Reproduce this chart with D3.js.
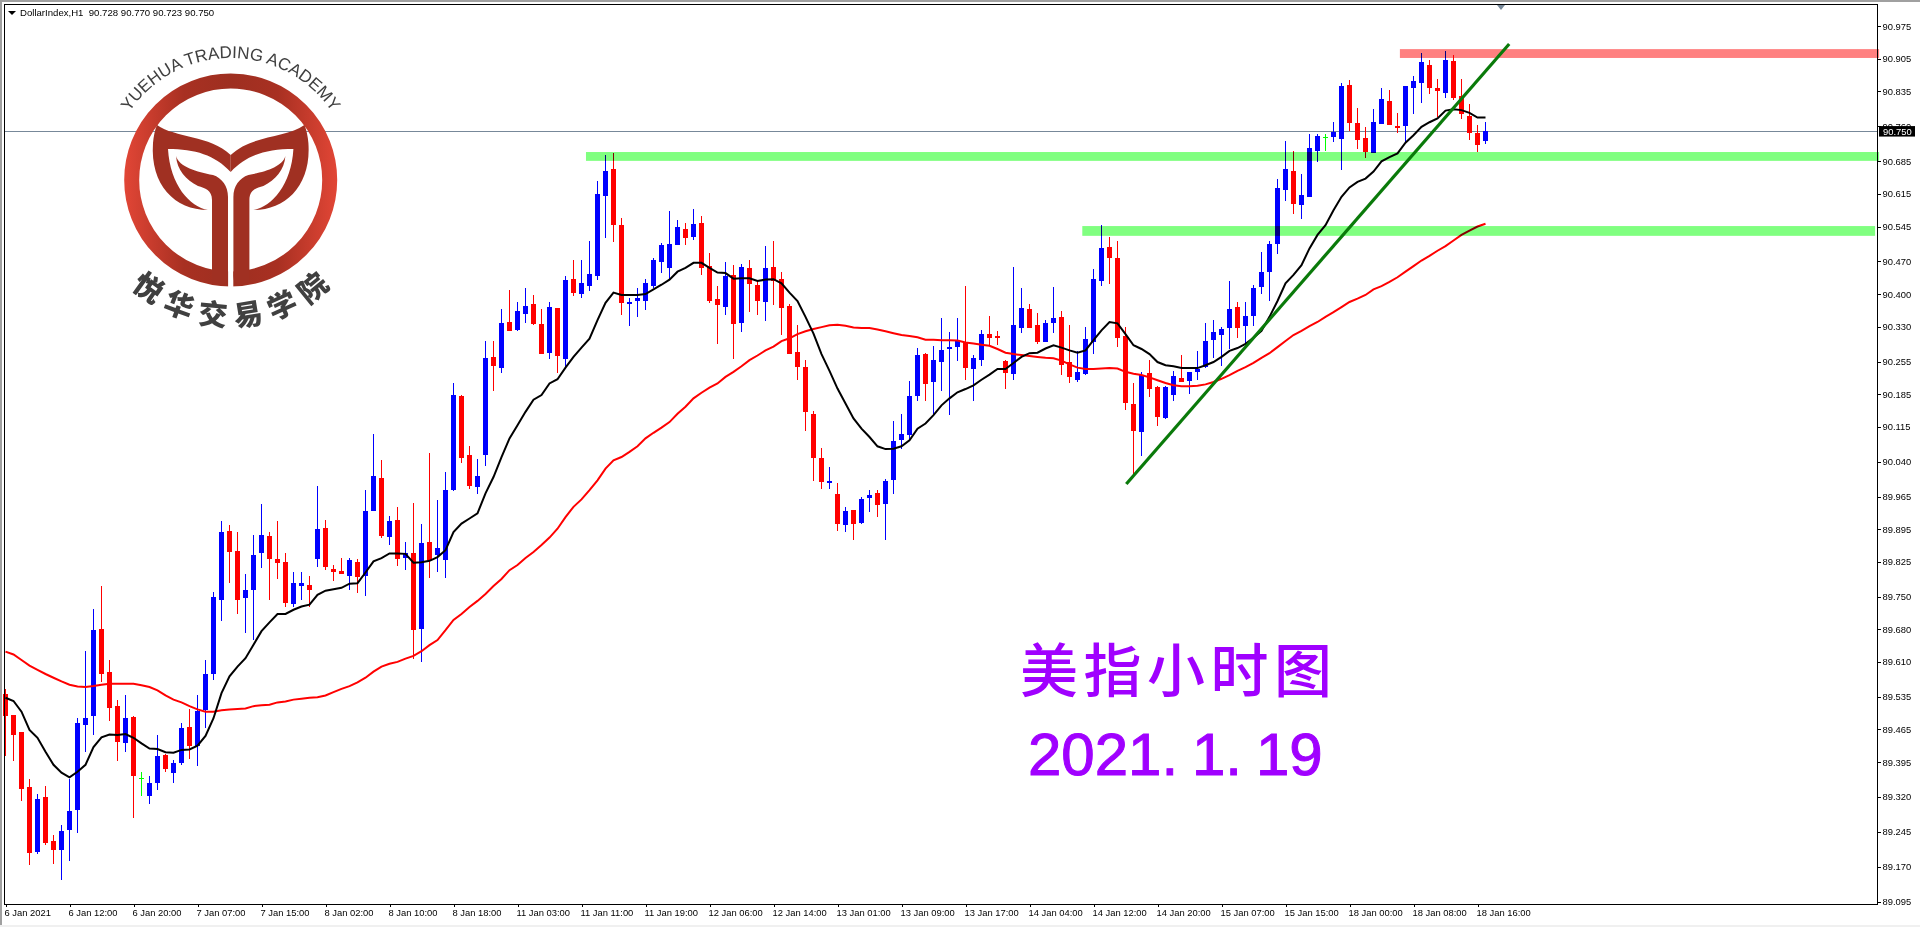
<!DOCTYPE html>
<html><head><meta charset="utf-8"><title>DollarIndex H1</title>
<script src="https://cdn.jsdelivr.net/npm/d3@7/dist/d3.min.js"></script>
<style>html,body{margin:0;padding:0;background:#fff;overflow:hidden}svg{display:block}
text{font-family:"Liberation Sans",Arial,sans-serif}</style></head><body><div id="chart"></div>
<script>
const open=[89.541,89.496,89.460,89.342,89.202,89.320,89.226,89.205,89.248,89.291,89.475,89.493,89.681,89.589,89.516,89.435,89.492,89.360,89.321,89.349,89.410,89.372,89.393,89.470,89.430,89.507,89.585,89.744,89.891,89.848,89.748,89.765,89.843,89.881,89.831,89.825,89.735,89.772,89.775,89.832,89.898,89.810,89.805,89.795,89.825,89.795,89.935,90.005,89.879,89.915,89.834,89.844,
89.680,89.867,89.839,89.828,89.979,90.181,90.054,89.986,90.055,90.264,90.241,90.340,90.323,90.357,90.378,90.335,90.273,90.370,90.261,90.432,90.400,90.418,90.439,90.611,90.668,90.548,90.379,90.385,90.385,90.418,90.469,90.456,90.506,90.539,90.523,90.552,90.460,90.389,90.373,90.441,90.338,90.456,90.419,90.383,90.458,90.432,90.374,90.275,90.243,90.142,90.047,89.994,89.970,89.904,89.936,89.909,89.962,89.972,89.949,90.001,90.087,90.098,90.181,90.271,90.211,90.254,90.282,90.287,90.297,90.239,90.259,90.314,90.310,90.256,90.229,90.327,90.368,90.333,90.297,90.338,90.350,90.254,90.215,90.229,90.297,90.428,90.501,90.477,90.310,90.163,90.104,90.230,90.201,90.134,90.183,90.219,90.214,90.233,90.244,90.301,
90.312,90.327,90.372,90.332,90.353,90.416,90.447,90.508,90.624,90.664,90.592,90.609,90.708,90.737,90.738,90.734,90.849,90.767,90.735,90.703,90.766,90.815,90.761,90.760,90.843,90.854,90.892,90.842,90.832,90.900,90.825,90.782,90.745,90.728];
const high=[89.552,89.496,89.460,89.359,89.326,89.344,89.238,89.260,89.359,89.489,89.634,89.724,89.773,89.614,89.528,89.539,89.494,89.374,89.365,89.453,89.412,89.400,89.479,89.509,89.539,89.614,89.760,89.913,89.904,89.889,89.799,89.883,89.949,89.889,89.913,89.844,89.803,89.803,89.795,89.988,89.915,89.818,89.833,89.833,89.831,89.979,90.100,90.044,89.924,89.943,89.868,89.952,
89.906,90.058,89.957,90.017,90.209,90.183,90.073,90.045,90.299,90.299,90.368,90.408,90.383,90.413,90.398,90.368,90.383,90.370,90.438,90.473,90.473,90.514,90.642,90.698,90.703,90.563,90.392,90.413,90.432,90.477,90.509,90.578,90.559,90.552,90.582,90.567,90.488,90.417,90.468,90.462,90.464,90.473,90.430,90.503,90.514,90.447,90.378,90.333,90.258,90.148,90.069,90.028,89.994,89.942,89.936,89.964,89.979,89.979,90.002,90.127,90.142,90.213,90.284,90.273,90.288,90.348,90.318,90.348,90.417,90.269,90.322,90.352,90.320,90.258,90.458,90.413,90.378,90.359,90.344,90.415,90.363,90.333,90.277,90.329,90.453,90.548,90.522,90.514,90.329,90.209,90.232,90.258,90.203,90.203,90.234,90.269,90.232,90.277,90.337,90.344,
90.329,90.428,90.383,90.383,90.419,90.490,90.514,90.647,90.728,90.707,90.658,90.744,90.744,90.744,90.770,90.853,90.860,90.800,90.759,90.797,90.842,90.838,90.789,90.847,90.868,90.918,90.903,90.862,90.922,90.913,90.862,90.808,90.763,90.770];
const low=[89.407,89.398,89.312,89.173,89.198,89.217,89.177,89.142,89.183,89.243,89.417,89.453,89.567,89.482,89.398,89.417,89.274,89.322,89.304,89.334,89.374,89.349,89.389,89.402,89.387,89.468,89.572,89.697,89.780,89.712,89.673,89.658,89.811,89.742,89.787,89.727,89.727,89.744,89.727,89.813,89.808,89.783,89.798,89.765,89.757,89.752,89.933,89.877,89.862,89.817,89.808,89.617,
89.609,89.790,89.803,89.790,89.977,90.037,89.982,89.971,90.031,90.192,90.231,90.321,90.321,90.338,90.333,90.272,90.261,90.231,90.244,90.396,90.392,90.407,90.431,90.521,90.512,90.355,90.332,90.351,90.366,90.413,90.446,90.431,90.505,90.506,90.516,90.441,90.381,90.293,90.355,90.261,90.319,90.362,90.355,90.342,90.377,90.312,90.272,90.216,90.106,89.999,89.982,89.982,89.891,89.889,89.872,89.906,89.932,89.921,89.872,89.971,90.068,90.087,90.171,90.171,90.138,90.192,90.141,90.257,90.216,90.171,90.246,90.291,90.291,90.196,90.216,90.317,90.327,90.293,90.297,90.317,90.226,90.209,90.211,90.226,90.272,90.418,90.422,90.287,90.151,90.011,90.052,90.179,90.117,90.132,90.171,90.211,90.186,90.215,90.241,90.262,
90.245,90.282,90.306,90.293,90.332,90.400,90.385,90.487,90.600,90.572,90.562,90.609,90.684,90.708,90.727,90.667,90.751,90.712,90.693,90.703,90.766,90.762,90.746,90.727,90.787,90.811,90.830,90.781,90.822,90.817,90.776,90.731,90.706,90.723];
const close=[89.493,89.452,89.338,89.200,89.316,89.221,89.207,89.247,89.290,89.479,89.490,89.679,89.585,89.512,89.437,89.490,89.364,89.360,89.350,89.408,89.379,89.393,89.468,89.430,89.505,89.584,89.750,89.889,89.845,89.744,89.765,89.840,89.883,89.832,89.823,89.737,89.780,89.780,89.765,89.896,89.813,89.802,89.798,89.829,89.793,89.934,90.010,89.881,89.913,89.832,89.843,89.679,
89.865,89.828,89.854,89.979,90.183,90.048,89.988,90.009,90.262,90.246,90.337,90.321,90.363,90.374,90.335,90.272,90.372,90.267,90.430,90.402,90.423,90.443,90.615,90.664,90.549,90.381,90.383,90.392,90.423,90.473,90.505,90.507,90.544,90.521,90.550,90.456,90.385,90.377,90.438,90.336,90.458,90.422,90.385,90.456,90.428,90.370,90.272,90.244,90.147,90.048,89.997,89.998,89.906,89.934,89.906,89.959,89.968,89.947,89.998,90.084,90.099,90.181,90.269,90.207,90.258,90.279,90.286,90.299,90.241,90.262,90.314,90.306,90.306,90.231,90.333,90.370,90.327,90.297,90.337,90.348,90.248,90.222,90.232,90.303,90.432,90.499,90.478,90.306,90.166,90.106,90.226,90.196,90.136,90.201,90.224,90.211,90.232,90.239,90.299,90.318,
90.325,90.368,90.327,90.353,90.413,90.447,90.507,90.628,90.669,90.594,90.612,90.714,90.739,90.737,90.748,90.847,90.768,90.731,90.706,90.769,90.819,90.762,90.757,90.847,90.857,90.898,90.843,90.837,90.903,90.822,90.787,90.746,90.721,90.750];
const maFast=[89.533,89.526,89.503,89.464,89.447,89.417,89.389,89.372,89.362,89.374,89.389,89.427,89.448,89.454,89.453,89.455,89.447,89.435,89.424,89.423,89.416,89.415,89.421,89.422,89.430,89.451,89.489,89.543,89.579,89.600,89.618,89.647,89.676,89.695,89.713,89.713,89.722,89.729,89.733,89.754,89.763,89.766,89.769,89.778,89.779,89.802,89.826,89.833,89.843,89.843,89.842,89.823,
89.824,89.827,89.835,89.850,89.889,89.907,89.918,89.929,89.972,90.007,90.050,90.090,90.118,90.147,90.173,90.183,90.208,90.217,90.242,90.265,90.285,90.304,90.344,90.381,90.403,90.398,90.398,90.398,90.400,90.410,90.420,90.431,90.448,90.456,90.467,90.467,90.456,90.446,90.445,90.433,90.434,90.434,90.428,90.431,90.432,90.423,90.403,90.385,90.351,90.315,
90.271,90.235,90.197,90.165,90.133,90.111,90.093,90.073,90.067,90.068,90.073,90.086,90.111,90.122,90.140,90.161,90.176,90.189,90.196,90.204,90.216,90.227,90.239,90.239,90.252,90.265,90.273,90.274,90.283,90.290,90.285,90.279,90.274,90.279,90.301,90.322,90.340,90.337,90.314,90.290,90.282,90.271,90.254,90.247,90.245,90.241,90.241,90.241,90.247,90.254,
90.265,90.278,90.284,90.293,90.306,90.321,90.351,90.385,90.423,90.441,90.462,90.498,90.527,90.548,90.580,90.609,90.629,90.641,90.648,90.663,90.685,90.694,90.702,90.725,90.741,90.759,90.769,90.777,90.794,90.797,90.795,90.789,90.779,90.779];
const maSlow=[89.632,89.626,89.614,89.602,89.593,89.584,89.576,89.568,89.561,89.557,89.556,89.558,89.561,89.563,89.563,89.563,89.563,89.560,89.556,89.549,89.538,89.529,89.523,89.515,89.508,89.503,89.503,89.506,89.508,89.509,89.510,89.515,89.517,89.518,89.523,89.525,89.529,89.531,89.533,89.534,89.538,89.545,89.552,89.558,89.566,89.576,89.589,89.600,89.606,89.610,89.617,89.623,
89.633,89.646,89.657,89.678,89.700,89.713,89.728,89.741,89.756,89.773,89.788,89.807,89.818,89.833,89.846,
89.861,89.877,89.896,89.921,89.943,89.959,89.979,90.000,90.025,90.043,90.050,90.061,90.073,90.090,90.102,90.113,90.125,90.143,90.158,90.176,90.188,90.199,90.208,90.222,90.233,90.245,90.258,90.268,90.279,90.287,90.299,90.305,90.314,90.320,90.325,
90.329,90.333,90.334,90.332,90.328,90.327,90.327,90.324,90.320,90.316,90.312,90.310,90.307,90.302,90.302,90.301,90.301,90.300,90.296,90.294,90.291,90.289,90.282,90.274,90.271,90.269,90.267,90.265,90.263,90.262,90.257,90.249,90.242,90.239,90.239,90.240,90.241,90.240,90.233,90.229,90.226,90.221,90.215,90.209,90.204,90.202,90.202,90.203,90.206,90.211,
90.218,90.226,90.235,90.243,90.252,90.263,90.273,90.286,90.299,90.312,90.321,90.331,90.340,90.351,90.361,90.372,90.383,
90.390,90.398,90.410,90.417,90.426,90.436,90.448,90.460,90.472,90.482,90.493,90.503,90.515,90.527,90.536,90.545,90.551];
const priceTicks=[90.975,90.905,90.835,90.760,90.685,90.615,90.545,90.470,90.400,90.330,90.255,90.185,90.115,90.040,89.965,89.895,89.825,89.750,89.680,89.610,89.535,89.465,89.395,89.320,89.245,89.170,89.095];
const timeLabels=["6 Jan 2021","6 Jan 12:00","6 Jan 20:00","7 Jan 07:00","7 Jan 15:00","8 Jan 02:00","8 Jan 10:00","8 Jan 18:00","11 Jan 03:00","11 Jan 11:00","11 Jan 19:00","12 Jan 06:00","12 Jan 14:00","13 Jan 01:00","13 Jan 09:00","13 Jan 17:00","14 Jan 04:00","14 Jan 12:00","14 Jan 20:00","15 Jan 07:00","15 Jan 15:00","18 Jan 00:00","18 Jan 08:00","18 Jan 16:00"];
const greenZones=[{from:72.56,hi:90.705,lo:90.686,to:234.2},{from:134.6,hi:90.546,lo:90.525,to:233.7}];
const redZones=[{from:174.3,hi:90.926,lo:90.907,to:234.2}];
const trendBars=[140.1,187.96];
const trendPrices=[89.992,90.937];
const lastPrice=90.750;

const W=1920,H=927;
const x=d3.scaleLinear().domain([0,185]).range([5.5,1485.5]);
const y=d3.scaleLinear().domain([89.095,90.975]).range([901.7,26.3]);
const svg=d3.select("#chart").append("svg").attr("width",W).attr("height",H);
svg.append("rect").attr("width",W).attr("height",H).attr("fill","#fff");

// window chrome
svg.append("rect").attr("width",W).attr("height",2).attr("fill","#a0a0a0");
svg.append("rect").attr("width",2).attr("height",H).attr("fill","#a0a0a0");
svg.append("rect").attr("y",925).attr("width",W).attr("height",2).attr("fill","#f0f0f0");

const plot=svg.append("g");
// bid line
plot.append("line").attr("x1",4).attr("x2",1877).attr("y1",Math.round(y(lastPrice))+.5).attr("y2",Math.round(y(lastPrice))+.5).attr("stroke","#778899");

// candles
const idx=d3.range(open.length);
const col=i=>close[i]>open[i]?"#0000ff":close[i]<open[i]?"#ff0000":"#00ff00";
const candles=plot.append("g").attr("shape-rendering","crispEdges");
candles.selectAll("line").data(idx).join("line")
 .attr("x1",i=>x(i)).attr("x2",i=>x(i)).attr("y1",i=>y(high[i])).attr("y2",i=>y(low[i])).attr("stroke",col);
candles.selectAll("rect").data(idx.filter(i=>open[i]!==close[i])).join("rect")
 .attr("x",i=>x(i)-2.5).attr("width",5)
 .attr("y",i=>Math.round(y(Math.max(open[i],close[i]))))
 .attr("height",i=>Math.max(1,Math.round(y(Math.min(open[i],close[i])))-Math.round(y(Math.max(open[i],close[i])))))
 .attr("fill",col);
candles.selectAll("line.doji").data(idx.filter(i=>open[i]===close[i])).join("line").attr("class","doji")
 .attr("x1",i=>x(i)-2.5).attr("x2",i=>x(i)+2.5).attr("y1",i=>y(open[i])).attr("y2",i=>y(open[i])).attr("stroke",col);

// moving averages
const line=d3.line().x((d,i)=>x(i)).y(d=>y(d));
plot.append("path").attr("d",line(maSlow)).attr("fill","none").attr("stroke","#ff0000").attr("stroke-width",2);
plot.append("path").attr("d",line(maFast)).attr("fill","none").attr("stroke","#000").attr("stroke-width",2);

// zones (blended like the terminal's background rectangles)
const zone=(list,c)=>plot.append("g").selectAll("rect").data(list).join("rect")
 .attr("x",d=>x(d.from)).attr("width",d=>x(d.to)-x(d.from)).attr("y",d=>y(d.hi)).attr("height",d=>y(d.lo)-y(d.hi))
 .attr("fill",c).style("mix-blend-mode","multiply");
zone(greenZones,"#80ff80"); zone(redZones,"#ff8080");

// trend line
plot.append("line").attr("x1",x(trendBars[0])).attr("x2",x(trendBars[1])).attr("y1",y(trendPrices[0])).attr("y2",y(trendPrices[1]))
 .attr("stroke","#0a7a0a").attr("stroke-width",3.2);

// frame + axes
const frame=svg.append("g").attr("shape-rendering","crispEdges");
frame.append("line").attr("x1",4).attr("x2",1878).attr("y1",4.5).attr("y2",4.5).attr("stroke","#000");
frame.append("line").attr("x1",4.5).attr("x2",4.5).attr("y1",4).attr("y2",905).attr("stroke","#000");
frame.append("line").attr("x1",1877.5).attr("x2",1877.5).attr("y1",4).attr("y2",905).attr("stroke","#000");
frame.append("line").attr("x1",4).attr("x2",1878).attr("y1",904.5).attr("y2",904.5).attr("stroke","#000");

const yAxis=svg.append("g").attr("transform","translate(1877,0)")
 .call(d3.axisRight(y).tickValues(priceTicks).tickFormat(d3.format(".3f")).tickSize(4).tickPadding(1.5));
yAxis.select(".domain").remove();
yAxis.selectAll("text").attr("font-size",9.4).attr("font-family","Liberation Sans").attr("fill","#000");
yAxis.selectAll("line").attr("shape-rendering","crispEdges");

const xAxis=svg.append("g").attr("transform","translate(0,904)")
 .call(d3.axisBottom(x).tickValues(timeLabels.map((d,i)=>i*8)).tickFormat((d,i)=>timeLabels[i]).tickSize(3).tickPadding(2));
xAxis.select(".domain").remove();
xAxis.selectAll("text").attr("text-anchor","start").attr("dx",-1.5).attr("font-size",9.4).attr("font-family","Liberation Sans").attr("fill","#000");
xAxis.selectAll("line").attr("shape-rendering","crispEdges");

// last price tag
svg.append("rect").attr("x",1879).attr("y",y(lastPrice)-5).attr("width",36).attr("height",10.5).attr("fill","#000");
svg.append("text").attr("x",1883).attr("y",y(lastPrice)+3.5).attr("font-size",9.4).attr("fill","#fff").text(d3.format(".3f")(lastPrice));

// header
svg.append("path").attr("d",d3.line()([[8,11],[16,11],[12,15]])+"Z").attr("fill","#000");
svg.append("text").attr("x",20).attr("y",16).attr("font-size",9.6).attr("fill","#000").attr("xml:space","preserve")
 .text("DollarIndex,H1  90.728 90.770 90.723 90.750");
svg.append("path").attr("d",d3.line()([[1497,5],[1505,5],[1501,10]])+"Z").attr("fill","#778899");

// logo
const cx=230.7,cy=180;
const defs=svg.append("defs");
const grad=defs.append("linearGradient").attr("id","ringGrad").attr("gradientUnits","userSpaceOnUse")
 .attr("x1",cx-107).attr("x2",cx+107).attr("y1",0).attr("y2",0);
[[0,"#e24636"],[.28,"#a83022"],[.5,"#9e2f20"],[.72,"#a83022"],[1,"#e24636"]].forEach(s=>grad.append("stop").attr("offset",s[0]).attr("stop-color",s[1]));
defs.append("path").attr("id","arcTop").attr("d",`M${cx-122},${cy}A122,122 0 0 1 ${cx+122},${cy}`);
defs.append("path").attr("id","arcBot").attr("d",`M${cx-146},${cy}A146,146 0 0 0 ${cx+146},${cy}`);
const logo=svg.append("g");
logo.append("circle").attr("cx",cx).attr("cy",cy).attr("r",99).attr("fill","none").attr("stroke","url(#ringGrad)").attr("stroke-width",15);
logo.append("rect").attr("x",cx-2.6).attr("y",190).attr("width",5.2).attr("height",100).attr("fill","#fff");
const half=g=>{
 g.append("path").attr("fill","#a03022").attr("d","M157,125C175,138 210,135 230.7,155L230.7,172C215,155 195,149 168,149C170,185 190,207 208,210C175,210 150,185 153,143Q154,132 157,125Z");
 g.append("path").attr("fill","#a03022").attr("d","M176,156C179,167 197,172 213,175C222,178 228,186 228,197L228,276Q228,284 221,285L212,282L212,269L212,200C212,190 205,188 198,186C186,180 177,170 176,156Z");
};
half(logo.append("g"));
half(logo.append("g").attr("transform",`translate(${2*cx},0) scale(-1,1)`));
logo.append("text").attr("font-size",17).attr("fill","#404040")
 .append("textPath").attr("href","#arcTop").attr("startOffset","50%").attr("text-anchor","middle").text("YUEHUA TRADING ACADEMY");
logo.append("text").attr("font-size",29).attr("font-weight",900).attr("fill","#404040").style("font-family","'Noto Sans CJK SC'").attr("letter-spacing",9)
 .append("textPath").attr("href","#arcBot").attr("startOffset",234).attr("text-anchor","middle").text("悦华交易学院");

// caption
svg.append("text").attr("x",1020).attr("y",692).attr("font-size",58).attr("font-weight",500).attr("letter-spacing",5.5).attr("fill","#a000ff").style("font-family","'Noto Sans CJK SC'").text("美指小时图");
const dateText=svg.append("text").attr("y",775).attr("font-size",60).attr("fill","#a000ff").attr("stroke","#a000ff").attr("stroke-width",1);
[["2021.",1028],["1.",1192],["19",1256]].forEach(p=>dateText.append("tspan").attr("x",p[1]).text(p[0]));
</script></body></html>
